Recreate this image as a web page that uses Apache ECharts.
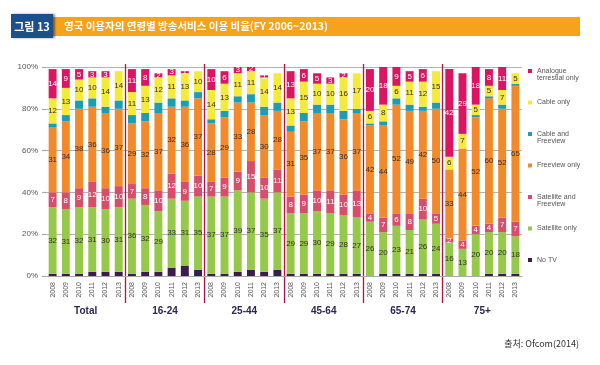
<!DOCTYPE html>
<html>
<head>
<meta charset="utf-8">
<script src="https://cdn.jsdelivr.net/npm/echarts@6/dist/echarts.min.js"></script>
<style>
html,body{margin:0;padding:0;background:#fff;}
#chart{width:600px;height:365px;}
</style>
</head>
<body>
<div id="chart"></div>
<script>
// ---- Data ----
const groups = ['Total', '16-24', '25-44', '45-64', '65-74', '75+'];
const years = ['2008', '2009', '2010', '2011', '2012', '2013'];
const yTicks = [0, 20, 40, 60, 80, 100];

// values per bar, groups in order Total,16-24,25-44,45-64,65-74,75+ (each 2008..2013)
const noTV = [
  1, 1, 1, 2, 2, 2,
  1, 2, 2, 4, 5, 3,
  1, 1, 2, 3, 2, 3,
  1, 1, 1, 1, 1, 1,
  0, 1, 1, 1, 1, 1,
  0, 0, 0, 1, 1, 1
];
const satelliteOnly = [
  32, 31, 32, 31, 30, 31,
  36, 32, 29, 33, 31, 35,
  37, 37, 39, 37, 35, 37,
  29, 29, 30, 29, 28, 27,
  26, 20, 23, 21, 26, 24,
  16, 13, 20, 20, 20, 18
];
const satelliteFreeview = [
  7, 8, 9, 12, 10, 10,
  7, 8, 10, 12, 9, 10,
  7, 9, 9, 15, 10, 11,
  8, 9, 10, 11, 10, 13,
  4, 7, 6, 8, 10, 5,
  2, 4, 4, 4, 7, 7
];
const freeviewOnly = [
  31, 34, 38, 36, 36, 37,
  29, 32, 37, 32, 36, 37,
  28, 29, 33, 28, 30, 28,
  31, 35, 37, 37, 36, 37,
  42, 44, 52, 49, 42, 50,
  33, 44, 52, 60, 52, 65
];
const cableFreeview = [
  2, 3, 4, 4, 3, 4,
  4, 4, 5, 4, 3, 3,
  2, 3, 3, 4, 4, 4,
  3, 4, 4, 4, 4, 2,
  1, 2, 3, 3, 2, 3,
  0, 0, 1, 1, 2, 1
];
const cableOnly = [
  12, 13, 10, 10, 14, 14,
  11, 13, 12, 11, 13, 10,
  14, 13, 11, 11, 14, 14,
  13, 15, 10, 10, 16, 17,
  6, 8, 6, 11, 12, 15,
  6, 7, 5, 5, 7, 5
];
const analogueOnly = [
  14, 9, 5, 3, 3, 0,
  11, 8, 2, 3, 1, 0,
  10, 6, 3, 2, 1, 0,
  13, 6, 5, 3, 2, 0,
  20, 18, 9, 5, 6, 0,
  42, 29, 18, 8, 11, 0
];

const seriesNames = ['No TV', 'Satellite only', 'Satellite and Freeview', 'Freeview only',
  'Cable and Freeview', 'Cable only', 'Analogue terrestial only'];
const seriesValues = [noTV, satelliteOnly, satelliteFreeview, freeviewOnly, cableFreeview, cableOnly, analogueOnly];
const legendLines = {
  'Analogue terrestial only': ['Analogue', 'terrestial only'],
  'Cable only': ['Cable only'],
  'Cable and Freeview': ['Cable and', 'Freeview'],
  'Freeview only': ['Freeview only'],
  'Satellite and Freeview': ['Satellite and', 'Freeview'],
  'Satellite only': ['Satellite only'],
  'No TV': ['No TV']
};
const titleText = '영국 이용자의 연령별 방송서비스 이용 비율(FY 2006~2013)';
const figLabel = '그림 13';
const sourceText = '출처: Ofcom(2014)';

// ---- Style ----
const colors = {
  'No TV': '#3d1b4d',
  'Satellite only': '#96c84a',
  'Satellite and Freeview': '#d84c6c',
  'Freeview only': '#f28a2c',
  'Cable and Freeview': '#1c9db3',
  'Cable only': '#f4ea3c',
  'Analogue terrestial only': '#dc1563'
};
const labelled = {
  'Satellite only': '#3a2c2c',
  'Satellite and Freeview': '#ffffff',
  'Freeview only': '#3a2c2c',
  'Cable only': '#3a2c2c',
  'Analogue terrestial only': '#ffffff'
};
const FONT = '"Liberation Sans", Arial, sans-serif';
const KFONT = '"Noto Sans CJK KR", "Noto Sans", sans-serif';

const categories = [];
groups.forEach(g => years.forEach(y => categories.push(g + '|' + y)));

const chart = echarts.init(document.getElementById('chart'));

const series = seriesNames.map((name, i) => ({
  name: name,
  type: 'bar',
  stack: 'all',
  xAxisIndex: 0,
  yAxisIndex: 0,
  barWidth: '60%',
  data: seriesValues[i],
  itemStyle: { color: colors[name] },
  label: {
    show: !!labelled[name],
    position: 'inside',
    color: labelled[name] || '#000',
    fontSize: 8,
    fontFamily: FONT,
    formatter: p => (p.value > 0 ? String(p.value) : '')
  },
  emphasis: { disabled: true },
  animation: false
}));

// legends, top to bottom; icon aligned with the first text line
const legendOrder = seriesNames.slice().reverse();
const LH = 7.5;
const legends = legendOrder.map((name, i) => {
  const c = 71 + 31.5 * i;
  const lines = legendLines[name];
  const twoLine = lines.length > 1;
  return {
    data: [name],
    left: 528,
    top: twoLine ? c - LH * 1.5 : c - LH / 2,
    padding: 0,
    orient: 'vertical',
    icon: 'rect',
    itemWidth: 4,
    itemHeight: 4,
    selectedMode: false,
    formatter: n => (twoLine ? '{s|\u200b}\n' + lines.join('\n') : lines[0]),
    textStyle: {
      fontSize: 7,
      lineHeight: LH,
      color: '#555',
      fontFamily: FONT,
      rich: { s: { fontSize: 7, lineHeight: LH } }
    }
  };
});

const option = {
  animation: false,
  backgroundColor: '#ffffff',
  grid: [
    { left: 46, right: 78, top: 67, bottom: 89 },
    { left: 46, right: 78, top: 64, bottom: 62 }
  ],
  xAxis: [
    {
      type: 'category',
      gridIndex: 0,
      data: categories,
      axisLine: { show: true, lineStyle: { color: '#aaaaaa', width: 1.2 } },
      axisTick: { show: false },
      axisLabel: {
        interval: 0,
        rotate: 90,
        fontSize: 7,
        color: '#555',
        margin: 6,
        fontFamily: FONT,
        formatter: v => v.split('|')[1]
      }
    },
    {
      type: 'category',
      gridIndex: 1,
      data: groups,
      axisLine: { show: false },
      axisTick: { show: false },
      axisLabel: {
        fontSize: 10,
        fontWeight: 'bold',
        color: '#2d2552',
        margin: 3,
        fontFamily: FONT
      },
      splitLine: {
        show: true,
        showMinLine: false,
        showMaxLine: false,
        lineStyle: { color: '#b3133d', width: 1.3 }
      }
    }
  ],
  yAxis: [
    {
      type: 'value',
      gridIndex: 0,
      min: yTicks[0],
      max: yTicks[yTicks.length - 1],
      interval: 20,
      axisLine: { show: false },
      axisTick: { show: true, length: 4, lineStyle: { color: '#aaaaaa', width: 1.2 } },
      axisLabel: { formatter: '{value}%', fontSize: 8, color: '#555', margin: 8, fontFamily: FONT },
      splitLine: { show: true, lineStyle: { color: '#b4b4b4', width: 1.2 } }
    },
    {
      type: 'value',
      gridIndex: 1,
      min: 0,
      max: 1,
      show: false
    }
  ],
  legend: legends,
  series: series,
  graphic: [
    { type: 'rect', shape: { x: 53, y: 17, width: 527, height: 19 }, style: { fill: '#f7a21b' }, silent: true },
    { type: 'rect', shape: { x: 11, y: 14, width: 42, height: 24 },
      style: { fill: '#1d4f8a', shadowBlur: 2, shadowOffsetX: 1.5, shadowColor: 'rgba(0,0,0,0.45)' }, silent: true },
    { type: 'text', x: 32, y: 26.5,
      style: { text: figLabel, fill: '#ffffff', fontSize: 11, fontWeight: 'bold', fontFamily: KFONT, align: 'center', verticalAlign: 'middle' } },
    { type: 'text', x: 64, y: 26.5,
      style: { text: titleText, fill: '#ffffff', fontSize: 10.5, fontWeight: 'bold', fontFamily: KFONT, align: 'left', verticalAlign: 'middle' } },
    { type: 'text', x: 579, y: 344,
      style: { text: sourceText, fill: '#333333', fontSize: 9, fontFamily: KFONT, align: 'right', verticalAlign: 'middle' } }
  ]
};

chart.setOption(option);
</script>
</body>
</html>
